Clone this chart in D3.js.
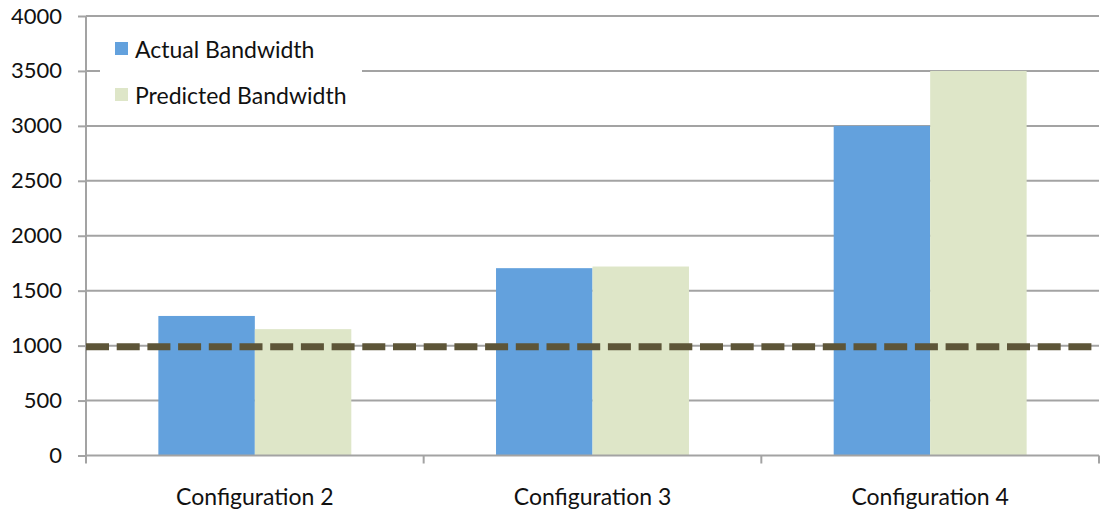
<!DOCTYPE html>
<html>
<head>
<meta charset="utf-8">
<script src="https://cdn.jsdelivr.net/npm/d3@7"></script>
<style>
  html, body { margin: 0; padding: 0; background: #fff; }
  svg { display: block; }
  text { font-family: Lato, "Open Sans", sans-serif; fill: #111; }
</style>
</head>
<body>
<svg id="chart" width="1105" height="512"></svg>
<script>
// Bandwidth per configuration
const categories = ["Configuration 2", "Configuration 3", "Configuration 4"];
const seriesNames = ["Actual Bandwidth", "Predicted Bandwidth"];
const actual = [1270, 1705, 3000];
const predicted = [1150, 1720, 3500];
const threshold = 990;
const yTicks = [0, 500, 1000, 1500, 2000, 2500, 3000, 3500, 4000];
const colors = ["#63a1dd", "#dee6c8"];

const svg = d3.select("#chart");
const plotLeft = 86, plotRight = 1099, plotTop = 16, plotBottom = 455.5;

const x = d3.scaleBand().domain(categories).range([plotLeft, plotRight]).paddingInner(0).paddingOuter(0);
const xInner = d3.scaleBand().domain(seriesNames).range([0, x.bandwidth()]).paddingInner(0).paddingOuter(0.75);
const y = d3.scaleLinear().domain([0, 4000]).range([plotBottom, plotTop]);

const gray = "#a3a3a3";

// horizontal gridlines
svg.append("g").selectAll("line").data(yTicks.filter(d => d > 0)).join("line")
  .attr("x1", plotLeft).attr("x2", plotRight)
  .attr("y1", d => y(d)).attr("y2", d => y(d))
  .attr("stroke", gray).attr("stroke-width", 2);

// y axis
const yAxis = svg.append("g").attr("transform", `translate(${plotLeft},0)`)
  .call(d3.axisLeft(y).tickValues(yTicks).tickSize(8).tickPadding(16).tickFormat(d3.format("d")));
yAxis.select(".domain").attr("stroke", gray).attr("stroke-width", 2).attr("d", `M0,${plotTop}V${plotBottom}`);
yAxis.selectAll(".tick line").attr("stroke", gray).attr("stroke-width", 2);
yAxis.selectAll(".tick text").style("font-size", "22px").style("font-family", "Lato, sans-serif").attr("fill", "#111");

// bars
const series = [actual, predicted];
const groups = svg.append("g").selectAll("g").data(categories).join("g")
  .attr("transform", d => `translate(${x(d)},0)`);
groups.selectAll("rect")
  .data((c, i) => seriesNames.map((s, j) => ({ s, v: series[j][i], j })))
  .join("rect")
  .attr("x", d => xInner(d.s))
  .attr("width", xInner.bandwidth())
  .attr("y", d => y(d.v))
  .attr("height", d => y(0) - y(d.v))
  .attr("fill", d => colors[d.j]);

// x axis
const xAxis = svg.append("g").attr("transform", `translate(0,${plotBottom})`)
  .call(d3.axisBottom(x).tickSize(0).tickPadding(33));
xAxis.select(".domain").attr("stroke", gray).attr("stroke-width", 2).attr("d", `M${plotLeft},0H${plotRight}`);
xAxis.selectAll(".tick text").style("font-size", "23px").style("font-family", "Lato, sans-serif").attr("fill", "#111");
const boundaries = d3.range(categories.length + 1).map(i => plotLeft + i * x.step());
xAxis.append("g").selectAll("line").data(boundaries).join("line")
  .attr("x1", d => d).attr("x2", d => d).attr("y1", 0).attr("y2", 8)
  .attr("stroke", gray).attr("stroke-width", 2);

// threshold line
svg.append("line")
  .attr("x1", plotLeft).attr("x2", plotRight)
  .attr("y1", y(threshold)).attr("y2", y(threshold))
  .attr("stroke", "#5d5538").attr("stroke-width", 7)
  .attr("stroke-dasharray", "23,7.7");

// legend
const legend = svg.append("g");
legend.append("rect").attr("x", 100).attr("y", 28).attr("width", 262).attr("height", 86).attr("fill", "#fff");
const items = legend.selectAll("g").data(seriesNames).join("g")
  .attr("transform", (d, i) => `translate(115,${42 + i * 46})`);
items.append("rect").attr("width", 13).attr("height", 13).attr("fill", (d, i) => colors[i]);
items.append("text").attr("x", 20).attr("y", 16).style("font-size", "23px").text(d => d);
</script>
</body>
</html>
